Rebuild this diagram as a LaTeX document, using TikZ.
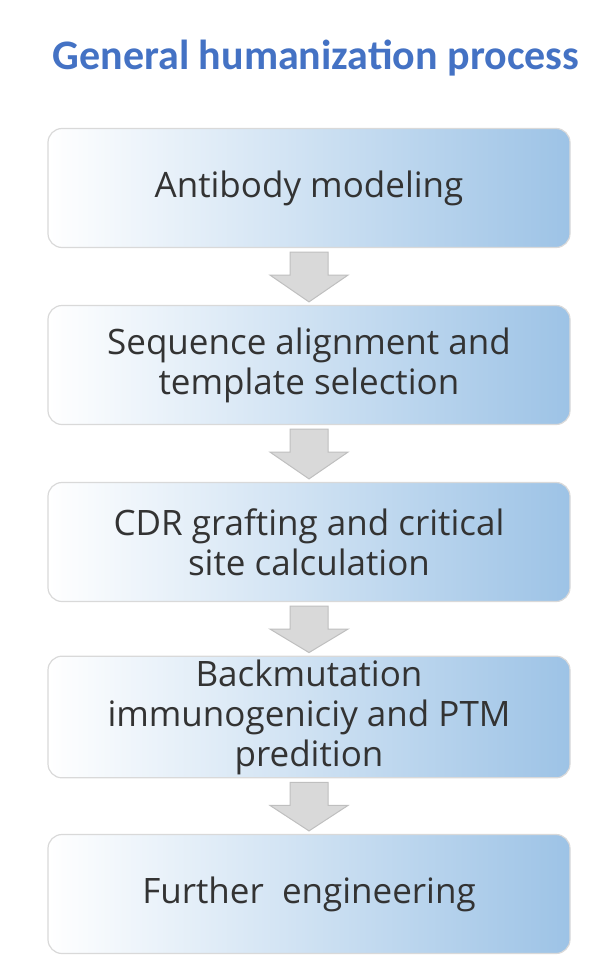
\documentclass[tikz,border=0pt]{standalone}
\usepackage{fontspec}
\usetikzlibrary{calc}
\setmainfont{Open Sans}
\newfontfamily\titlefont{Carlito}
\definecolor{bx}{HTML}{9DC3E6}
\begin{document}
\begin{tikzpicture}[x=1pt,y=-1pt,
  box/.style={draw=black!15,line width=1.2pt,rounded corners=14pt,left color=white,right color=bx,
    minimum width=522pt,minimum height=119pt,align=center,font=\fontsize{35}{40}\selectfont,text=black!80},
  arr/.style={fill=black!15,draw=black!25,line width=1pt}]
\useasboundingbox (0,0) rectangle (611,974);
\node[font=\titlefont\bfseries\fontsize{42}{48}\selectfont,text={rgb,255:red,68;green,114;blue,196}] (t) at (316,58) {General humanization process};
\node[box] (b1) at (309,188) {Antibody modeling};
\node[box] (b2) at (309,365) {Sequence alignment and\\template selection};
\node[box] (b3) at (309,542) {CDR grafting and critical\\site calculation};
\node[box] (b4) at (309,717) {Backmutation\\immunogeniciy and PTM\\predition};
\node[box] (b5) at (309,894) {Further\ \ engineering};
\foreach \a/\b in {b1/b2,b2/b3,b3/b4,b4/b5}{
  \draw[arr] ($(\a.south)+(-19,4)$) -- ($(\a.south)+(19,4)$) -- ($(\a.south)+(19,27)$) -- ($(\a.south)+(39,27)$) -- ($(\b.north)+(0,-3)$) -- ($(\a.south)+(-39,27)$) -- ($(\a.south)+(-19,27)$) -- cycle;
}
\end{tikzpicture}
\end{document}
